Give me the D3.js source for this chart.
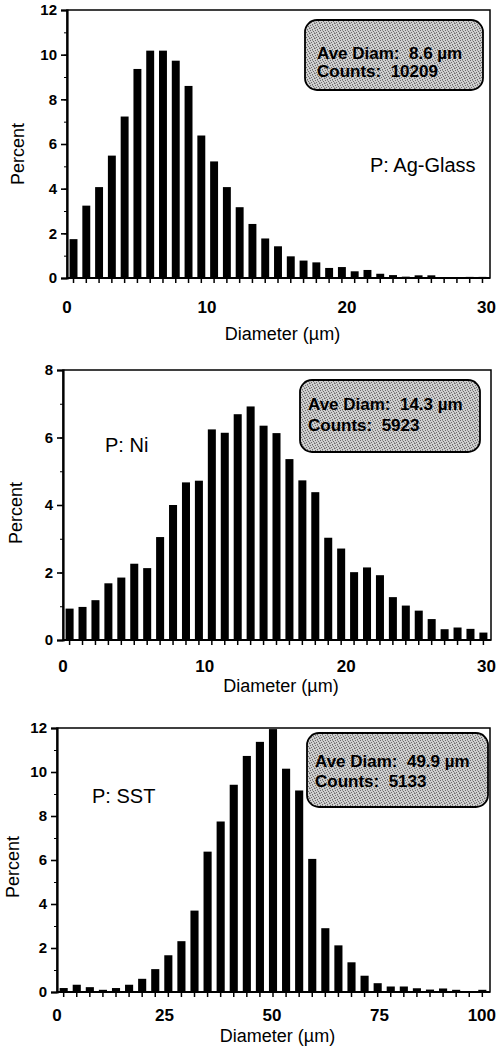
<!DOCTYPE html>
<html>
<head>
<meta charset="utf-8">
<script src="https://cdn.jsdelivr.net/npm/d3@7"></script>
<style>
  body { margin: 0; background: #fff; }
  svg { display: block; font-family: "Liberation Sans", Arial, Helvetica, sans-serif; }
</style>
</head>
<body>
<div id="container"></div>
<script>
// Percent per size bin (33 bins each)
const agGlassValues = [1.74, 3.24, 4.07, 5.48, 7.23, 9.36, 10.18, 10.18, 9.73, 8.6, 6.38,
  5.22, 4.07, 3.17, 2.42, 1.77, 1.42, 0.97, 0.78, 0.70, 0.45, 0.49, 0.30, 0.36, 0.19,
  0.13, 0.06, 0.12, 0.12, 0.04, 0.04, 0.05, 0.05];
const niValues = [0.93, 0.98, 1.18, 1.68, 1.85, 2.26, 2.13, 3.05, 4.0, 4.67, 4.72,
  6.24, 6.14, 6.69, 6.92, 6.35, 6.13, 5.36, 4.73, 4.38, 3.03, 2.71, 2.01, 2.15, 1.92,
  1.27, 1.02, 0.87, 0.62, 0.32, 0.37, 0.33, 0.22];
const sstValues = [0.18, 0.33, 0.22, 0.1, 0.18, 0.33, 0.6, 1.04, 1.67, 2.31, 3.7,
  6.38, 7.75, 9.42, 10.73, 11.37, 11.95, 10.15, 9.16, 6.05, 2.9, 2.12, 1.35, 0.74, 0.4,
  0.25, 0.25, 0.17, 0.11, 0.16, 0.1, 0.03, 0.1];

// axis ticks
const agGlassXTicks = [0, 10, 20, 30];
const niXTicks = [0, 10, 20, 30];
const sstXTicks = [0, 25, 50, 75, 100];
const agGlassYTicks = [0, 2, 4, 6, 8, 10, 12];
const niYTicks = [0, 2, 4, 6, 8];
const sstYTicks = [0, 2, 4, 6, 8, 10, 12];

// texts
const sampleNames = ['P: Ag-Glass', 'P: Ni', 'P: SST'];
const aveLabels = ['Ave Diam:  8.6 µm', 'Ave Diam:  14.3 µm', 'Ave Diam:  49.9 µm'];
const countLabels = ['Counts:  10209', 'Counts:  5923', 'Counts:  5133'];

const width = 497, height = 1048;

// layout of the three stacked panels
const layouts = [
  { top: 10, bottom: 278, left: 67, right: 490, name: [370, 172],
    box: [305, 20, 178, 70], text: [317, 59, 77], xLab: 313, title: 340, yTitle: [24, 154] },
  { top: 370, bottom: 640, left: 63, right: 491, name: [105, 452],
    box: [300, 380, 180, 72], text: [308, 410, 431], xLab: 672, title: 692, yTitle: [22, 513] },
  { top: 728, bottom: 992, left: 57, right: 490, name: [92, 803],
    box: [307, 733, 181, 74], text: [315, 767, 787], xLab: 1021, title: 1042, yTitle: [19, 867] }
];

const svg = d3.select('#container').append('svg')
  .attr('width', width)
  .attr('height', height);

// stippled grey fill for the info boxes (scattered dots, like a halftone)
const pat = svg.append('defs').append('pattern')
  .attr('id', 'stipple')
  .attr('width', 5).attr('height', 5)
  .attr('patternUnits', 'userSpaceOnUse');
pat.append('rect').attr('width', 5).attr('height', 5).attr('fill', '#cfcfcf');
[[0, 0], [3, 1], [1, 2], [4, 3], [2, 4], [2, 0], [4, 2], [0, 3]].forEach(([px, py], i) => {
  pat.append('rect').attr('x', px).attr('y', py).attr('width', 1).attr('height', 1)
    .attr('fill', i < 5 ? '#6a6a6a' : '#9c9c9c');
});

const allValues = [agGlassValues, niValues, sstValues];
const allXTicks = [agGlassXTicks, niXTicks, sstXTicks];
const allYTicks = [agGlassYTicks, niYTicks, sstYTicks];

allValues.forEach((values, p) => {
  const L = layouts[p];
  const xTicks = allXTicks[p];
  const yTicks = allYTicks[p];
  const g = svg.append('g');

  const xBand = d3.scaleBand()
    .domain(d3.range(values.length))
    .range([L.left, L.right - 1])
    .paddingInner(0.38)
    .paddingOuter(0.2);

  const xLin = d3.scaleLinear()
    .domain([xTicks[0], xTicks[xTicks.length - 1]])
    .range([L.left, L.right - 3]);

  const y = d3.scaleLinear()
    .domain([0, yTicks[yTicks.length - 1]])
    .range([L.bottom, L.top]);

  // bars
  g.selectAll('rect.bar')
    .data(values)
    .enter()
    .append('rect')
    .attr('class', 'bar')
    .attr('x', (d, i) => xBand(i))
    .attr('y', d => y(d))
    .attr('width', xBand.bandwidth())
    .attr('height', d => L.bottom - y(d))
    .attr('fill', '#000');

  // frame
  g.append('rect')
    .attr('x', L.left).attr('y', L.top)
    .attr('width', L.right - L.left).attr('height', L.bottom - L.top)
    .attr('fill', 'none').attr('stroke', '#000').attr('stroke-width', 1.5);

  // y axis, major and minor ticks
  const minor = d3.range(0, yTicks[yTicks.length - 1] + 1, 1);
  g.append('g')
    .attr('transform', 'translate(' + L.left + ',0)')
    .call(d3.axisLeft(y).tickValues(minor).tickSize(3).tickFormat(''))
    .call(a => a.select('.domain').remove());
  g.append('g')
    .attr('transform', 'translate(' + L.left + ',0)')
    .call(d3.axisLeft(y).tickValues(yTicks).tickSize(6).tickPadding(4).tickFormat(d3.format('d')))
    .call(a => a.select('.domain').attr('stroke-width', 2.2))
    .call(a => a.selectAll('line').attr('stroke-width', 1.6))
    .call(a => a.selectAll('text').attr('font-size', 15).attr('font-weight', 'bold')
      .attr('fill', '#000').attr('font-family', null));

  // x axis: a small tick under every bar
  g.append('g')
    .attr('transform', 'translate(0,' + L.bottom + ')')
    .call(d3.axisBottom(xBand).tickSize(5).tickFormat(''))
    .call(a => a.select('.domain').attr('d', 'M' + L.left + ',0H' + L.right).attr('stroke-width', 2.2))
    .call(a => a.selectAll('line').attr('stroke-width', 1.5));

  // x tick labels, kept inside the page at the right edge
  g.selectAll('text.xlab')
    .data(xTicks)
    .enter()
    .append('text')
    .attr('class', 'xlab')
    .attr('x', d => xLin(d))
    .attr('y', L.xLab)
    .attr('text-anchor', 'middle')
    .attr('font-size', 17)
    .attr('font-weight', 'bold')
    .text(d => d)
    .each(function (d) {
      const w = this.getComputedTextLength();
      const cx = Math.min(xLin(d), width - 1 - w / 2);
      d3.select(this).attr('x', cx);
    });

  // axis titles
  g.append('text')
    .attr('x', (L.left + L.right) / 2 + 4)
    .attr('y', L.title)
    .attr('text-anchor', 'middle')
    .attr('font-size', 18)
    .text('Diameter (µm)');

  g.append('text')
    .attr('transform', 'translate(' + L.yTitle[0] + ',' + L.yTitle[1] + ') rotate(-90)')
    .attr('text-anchor', 'middle')
    .attr('font-size', 18)
    .text('Percent');

  // sample name
  g.append('text')
    .attr('x', L.name[0])
    .attr('y', L.name[1])
    .attr('font-size', 20)
    .text(sampleNames[p]);

  // info box
  g.append('rect')
    .attr('x', L.box[0]).attr('y', L.box[1])
    .attr('width', L.box[2]).attr('height', L.box[3])
    .attr('rx', 12).attr('ry', 12)
    .attr('fill', 'url(#stipple)')
    .attr('stroke', '#000').attr('stroke-width', 1.8);

  g.append('text')
    .attr('x', L.text[0]).attr('y', L.text[1])
    .attr('font-size', 17).attr('font-weight', 'bold')
    .style('white-space', 'pre')
    .text(aveLabels[p]);

  g.append('text')
    .attr('x', L.text[0]).attr('y', L.text[2])
    .attr('font-size', 17).attr('font-weight', 'bold')
    .style('white-space', 'pre')
    .text(countLabels[p]);
});
</script>
</body>
</html>
